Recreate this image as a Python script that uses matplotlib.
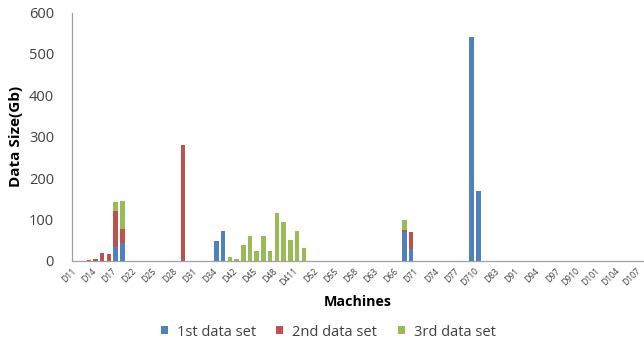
import numpy as np
import matplotlib
matplotlib.use("Agg")
import matplotlib.pyplot as plt
from matplotlib.transforms import ScaledTranslation

plt.rcParams["font.family"] = ["Open Sans", "DejaVu Sans"]

# machines per rack D1..D10
group_sizes = [8, 10, 5, 12, 8, 8, 10, 5, 12, 7]
machines = [f"D{g}{k}" for g, n in enumerate(group_sizes, start=1) for k in range(1, n + 1)]

# nonzero data sizes (Gb)
set1 = {"D17": 35, "D18": 43, "D34": 48, "D35": 72, "D67": 70, "D68": 28,
        "D79": 540, "D710": 168}
set2 = {"D13": 3, "D14": 5, "D15": 19, "D16": 17, "D17": 85, "D18": 35,
        "D29": 280, "D67": 5, "D68": 43}
set3 = {"D17": 22, "D18": 68, "D41": 10, "D42": 4, "D43": 38, "D44": 60,
        "D45": 23, "D46": 60, "D47": 23, "D48": 116, "D49": 94, "D410": 50,
        "D411": 72, "D412": 31, "D67": 25}

labels = ["1st data set", "2nd data set", "3rd data set"]
colors = ["#4F81BD", "#C0504D", "#9BBB59"]

x = np.arange(len(machines))
vals = [np.array([s.get(m, 0) for m in machines], float) for s in (set1, set2, set3)]

fig = plt.figure(figsize=(6.44, 3.45), dpi=100)
ax = fig.add_axes([72 / 644, 1 - 261 / 345, 571 / 644, 248.5 / 345])

bottom = np.zeros(len(machines))
for v, lab, c in zip(vals, labels, colors):
    ax.bar(x, v, width=0.67, bottom=bottom, color=c, label=lab)
    bottom += v

ax.set_xlim(-0.5, len(machines) - 0.5)
ax.set_ylim(0, 600)
ax.set_yticks(range(0, 601, 100))
ax.set_xticks(x[::3])
ax.set_xticklabels(machines[::3], rotation=45, ha="right", rotation_mode="anchor",
                   fontsize=6.2, color="#404040")
ax.tick_params(axis="y", length=0, labelsize=10.5, labelcolor="#404040", pad=13)
ax.tick_params(axis="x", length=0, pad=4)
# nudge rotated labels left so the last one stays inside the figure
shift = ScaledTranslation(-4 / 100, 0, fig.dpi_scale_trans)
for t in ax.get_xticklabels():
    t.set_transform(t.get_transform() + shift)

for s in ("top", "right"):
    ax.spines[s].set_visible(False)
for s in ("left", "bottom"):
    ax.spines[s].set_color("#A0A0A0")
    ax.spines[s].set_linewidth(0.9)

ax.set_ylabel("Data Size(Gb)", fontsize=11, fontweight="bold", labelpad=4)
ax.set_xlabel("Machines", fontsize=10.3, fontweight="bold", labelpad=5)

fig.legend(loc="center", bbox_to_anchor=(328 / 644, 1 - 332 / 345), ncol=3, frameon=False,
           fontsize=10.5, handlelength=0.5, handleheight=0.5, columnspacing=1.4,
           handletextpad=0.6, labelcolor="#404040")

fig.savefig("out.png", dpi=100)
